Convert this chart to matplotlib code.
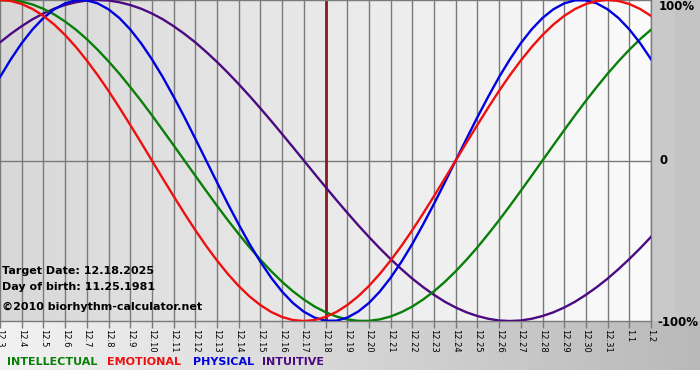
import matplotlib
matplotlib.use("Agg")
import matplotlib.pyplot as plt
import numpy as np
from matplotlib.colors import LinearSegmentedColormap

# ---- data ----
dates = ["12.3", "12.4", "12.5", "12.6", "12.7", "12.8", "12.9", "12.10", "12.11", "12.12",
         "12.13", "12.14", "12.15", "12.16", "12.17", "12.18", "12.19", "12.20", "12.21",
         "12.22", "12.23", "12.24", "12.25", "12.26", "12.27", "12.28", "12.29", "12.30",
         "12.31", "1.1", "1.2"]
# values read every half day, from 12.3 to 1.2
physical = [0.520, 0.631, 0.731, 0.817, 0.888, 0.942, 0.979, 0.998, 0.998, 0.979,
            0.942, 0.888, 0.817, 0.731, 0.631, 0.520, 0.398, 0.270, 0.136, 0.000,
            -0.136, -0.270, -0.398, -0.520, -0.631, -0.731, -0.817, -0.888, -0.942, -0.979,
            -0.998, -0.998, -0.979, -0.942, -0.888, -0.817, -0.731, -0.631, -0.520, -0.398,
            -0.270, -0.136, 0.000, 0.136, 0.270, 0.398, 0.520, 0.631, 0.731, 0.817,
            0.888, 0.942, 0.979, 0.998, 0.998, 0.979, 0.942, 0.888, 0.817, 0.731, 0.631]
emotional = [1.000, 0.994, 0.975, 0.944, 0.901, 0.847, 0.782, 0.707, 0.623, 0.532,
             0.434, 0.330, 0.222, 0.112, 0.000, -0.112, -0.222, -0.330, -0.434, -0.532,
             -0.623, -0.707, -0.782, -0.847, -0.901, -0.944, -0.975, -0.994, -1.000, -0.994,
             -0.975, -0.944, -0.901, -0.847, -0.782, -0.707, -0.623, -0.532, -0.434, -0.330,
             -0.222, -0.112, 0.000, 0.112, 0.222, 0.330, 0.434, 0.532, 0.623, 0.707,
             0.782, 0.847, 0.901, 0.944, 0.975, 0.994, 1.000, 0.994, 0.975, 0.944, 0.901]
intellectual = [0.999, 0.999, 0.990, 0.972, 0.945, 0.910, 0.866, 0.815, 0.756, 0.690,
                0.618, 0.541, 0.458, 0.372, 0.282, 0.189, 0.095, 0.000, -0.095, -0.189,
                -0.282, -0.372, -0.458, -0.541, -0.618, -0.690, -0.756, -0.815, -0.866, -0.910,
                -0.945, -0.972, -0.990, -0.999, -0.999, -0.990, -0.972, -0.945, -0.910, -0.866,
                -0.815, -0.756, -0.690, -0.618, -0.541, -0.458, -0.372, -0.282, -0.189, -0.095,
                0.000, 0.095, 0.189, 0.282, 0.372, 0.458, 0.541, 0.618, 0.690, 0.756, 0.815]
intuitive = [0.736, 0.789, 0.837, 0.880, 0.916, 0.946, 0.969, 0.986, 0.997, 1.000,
             0.997, 0.986, 0.969, 0.946, 0.916, 0.880, 0.837, 0.789, 0.736, 0.677,
             0.614, 0.547, 0.476, 0.402, 0.325, 0.246, 0.165, 0.083, 0.000, -0.083,
             -0.165, -0.246, -0.325, -0.402, -0.476, -0.547, -0.614, -0.677, -0.736, -0.789,
             -0.837, -0.880, -0.916, -0.946, -0.969, -0.986, -0.997, -1.000, -0.997, -0.986,
             -0.969, -0.946, -0.916, -0.880, -0.837, -0.789, -0.736, -0.677, -0.614, -0.547, -0.476]
target_label = "12.18"
y_labels = ["100%", "0", "-100%"]
info_lines = ["Target Date: 12.18.2025", "Day of birth: 11.25.1981", "\u00a92010 biorhythm-calculator.net"]
legend_names = ["INTELLECTUAL", "EMOTIONAL", "PHYSICAL", "INTUITIVE"]

# ---- styles ----
C_INT = "#087f08"
C_EMO = "#ee1010"
C_PHY = "#0000e0"
C_ITU = "#4b0a82"
GRID = "#7a7a7a"

W, H = 700, 380
PL, PR, PT, PB = 0, 651, 0, 321

fig = plt.figure(figsize=(7, 3.8), dpi=100)
fig.patch.set_facecolor("white")

bg = fig.add_axes([0, 0, 1, 1])
bg.set_xlim(0, W)
bg.set_ylim(H, 0)
bg.axis("off")
bg.imshow(np.array([[0.0, 1.0]]), cmap=LinearSegmentedColormap.from_list("r", ["#c9c9c9", "#c4c4c4"]),
          extent=(PR, W, PB, PT), aspect="auto", zorder=0)
bg.imshow(np.linspace(0, 1, 256)[None, :], cmap=LinearSegmentedColormap.from_list("b", ["#f2f2f2", "#b9b9b9"]),
          extent=(0, W, 370, PB), aspect="auto", zorder=0)

ax = fig.add_axes([PL / W, 1 - PB / H, (PR - PL) / W, (PB - PT) / H])
x = np.arange(len(dates))
xs = np.arange(len(physical)) / 2.0
ax.set_xlim(0, len(dates) - 1)
ax.set_ylim(-1, 1)
ax.imshow(np.linspace(0, 1, 256)[None, :], cmap=LinearSegmentedColormap.from_list("p", ["#d8d8d8", "#fbfbfb"]),
          extent=(0, len(dates) - 1, -1, 1), aspect="auto", zorder=0)

for xi in x:
    ax.axvline(xi, color=GRID, lw=1.0, zorder=1)
ax.axhline(0, color=GRID, lw=1.0, zorder=1)
ax.axvline(dates.index(target_label), color="#8a1c1c", lw=2.0, zorder=2)

ax.plot(xs, intuitive, color=C_ITU, lw=1.7, zorder=3)
ax.plot(xs, intellectual, color=C_INT, lw=1.7, zorder=4)
ax.plot(xs, physical, color=C_PHY, lw=1.7, zorder=5)
ax.plot(xs, emotional, color=C_EMO, lw=1.7, zorder=6)

ax.set_yticks([])
ax.set_xticks(x)
ax.set_xticklabels(dates, rotation=-90, fontsize=6, color="black")
ax.tick_params(axis="x", direction="out", length=5, width=1, color=GRID, pad=1)
for s in ["top", "bottom", "right"]:
    ax.spines[s].set_color(GRID)
    ax.spines[s].set_linewidth(1)
ax.spines["left"].set_visible(False)

# right labels
bg.text(659, 7, y_labels[0], fontsize=8.5, fontweight="bold", ha="left", va="center", zorder=5)
bg.text(659, 161, y_labels[1], fontsize=8.5, fontweight="bold", ha="left", va="center", zorder=5)
bg.text(657, 322, y_labels[2], fontsize=8.5, fontweight="bold", ha="left", va="center", zorder=5)

# info text
for yy, t in zip([271, 287, 307], info_lines):
    ax.text(2 / (PR - PL), 1 - yy / (PB - PT), t, transform=ax.transAxes, fontsize=8,
            fontweight="bold", ha="left", va="center", zorder=10)

# legend text
for xx, t, c in zip([7, 107, 193, 262], legend_names, [C_INT, C_EMO, C_PHY, C_ITU]):
    bg.text(xx, 362, t, fontsize=8, fontweight="bold", color=c, ha="left", va="center", zorder=5)

fig.savefig("out.png", dpi=100)
